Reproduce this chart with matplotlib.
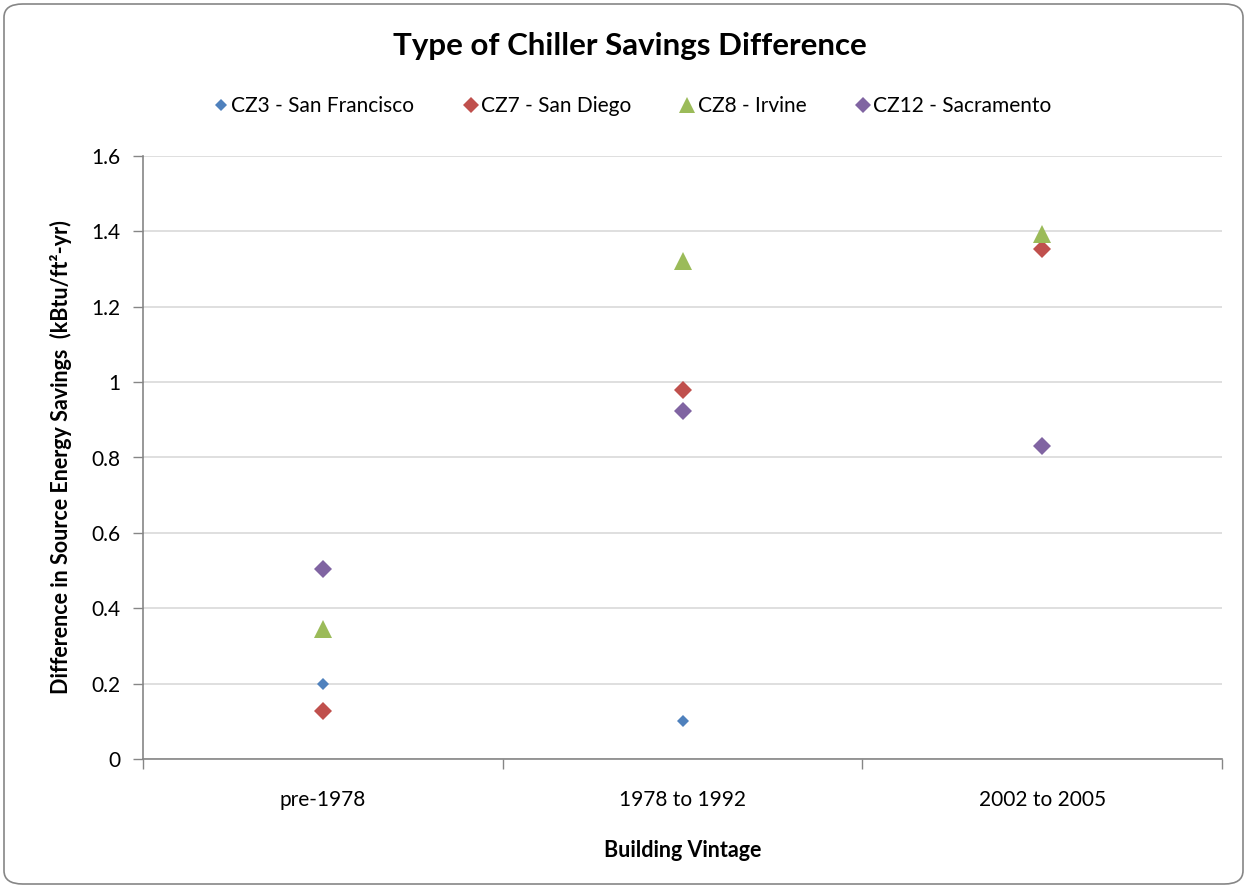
import matplotlib
matplotlib.use("Agg")
import matplotlib.pyplot as plt
import numpy as np
from matplotlib.patches import FancyBboxPatch

plt.rcParams['font.family'] = ['Lato', 'DejaVu Sans']

categories = ["pre-1978", "1978 to 1992", "2002 to 2005"]
series_names = ["CZ3 - San Francisco", "CZ7 - San Diego", "CZ8 - Irvine", "CZ12 - Sacramento"]
cz3 = [0.20, 0.10, np.nan]
cz7 = [0.127, 0.979, 1.353]
cz8 = [0.345, 1.321, 1.393]
cz12 = [0.504, 0.923, 0.830]
y_ticks = [0, 0.2, 0.4, 0.6, 0.8, 1, 1.2, 1.4, 1.6]
y_tick_labels = ["0", "0.2", "0.4", "0.6", "0.8", "1", "1.2", "1.4", "1.6"]

colors = ["#4F81BD", "#C0504D", "#9BBB59", "#8064A2"]
markers = ["D", "D", "^", "D"]
sizes = [6.6, 9.2, 13, 9.2]

fig = plt.figure(figsize=(12.47, 8.88), dpi=100)
ax = fig.add_axes([143/1247, 1-759/888, (1222-143)/1247, (759-156)/888])

x = np.arange(len(categories))
for vals, name, c, m, s in zip([cz3, cz7, cz8, cz12], series_names, colors, markers, sizes):
    ax.plot(x, vals, linestyle="none", marker=m, markersize=s, color=c,
            markeredgewidth=0, label=name, zorder=3)

ax.set_xlim(-0.5, 2.5)
ax.set_ylim(0, 1.6)
ax.set_yticks(y_ticks)
ax.set_yticklabels(y_tick_labels)
ax.set_xticks([-0.5, 0.5, 1.5, 2.5])
ax.set_xticklabels([])
ax.set_xticks(x, minor=True)
ax.set_xticklabels(categories, minor=True)
ax.tick_params(axis="x", which="minor", length=0, pad=22, labelsize=15)
ax.tick_params(axis="x", which="major", length=7, width=1, color="#868686", direction="out")
ax.tick_params(axis="y", length=7, width=1, color="#868686", direction="out", labelsize=15, pad=9)

ax.grid(axis="y", color="#D9D9D9", linewidth=1.2, zorder=0)
ax.set_axisbelow(True)
for sp in ["top", "right"]:
    ax.spines[sp].set_visible(False)
for sp in ["left", "bottom"]:
    ax.spines[sp].set_color("#868686")
    ax.spines[sp].set_linewidth(1.2)

ax.set_xlabel("Building Vintage", fontsize=15.5, fontweight="bold", labelpad=22)
ax.set_ylabel("Difference in Source Energy Savings  (kBtu/ft²-yr)", fontsize=15.5,
              fontweight="bold", labelpad=14)

fig.text(630/1247, 1-46/888, "Type of Chiller Savings Difference", ha="center", va="center",
         fontsize=22.5, fontweight="bold")

handles, labels = ax.get_legend_handles_labels()
leg = fig.legend(handles, labels, loc="center", bbox_to_anchor=(632/1247, 1-106/888), ncol=4,
                 frameon=False, fontsize=15, handletextpad=0.1, columnspacing=2.3,
                 handlelength=0.8, markerscale=0.85)

border = FancyBboxPatch((4/1247, 4/888), 1-8/1247, 1-8/888,
                        boxstyle="round,pad=0,rounding_size=0.015",
                        transform=fig.transFigure, fill=False, edgecolor="#868686",
                        linewidth=1.2)
fig.patches.append(border)

fig.savefig("out.png", dpi=100)
